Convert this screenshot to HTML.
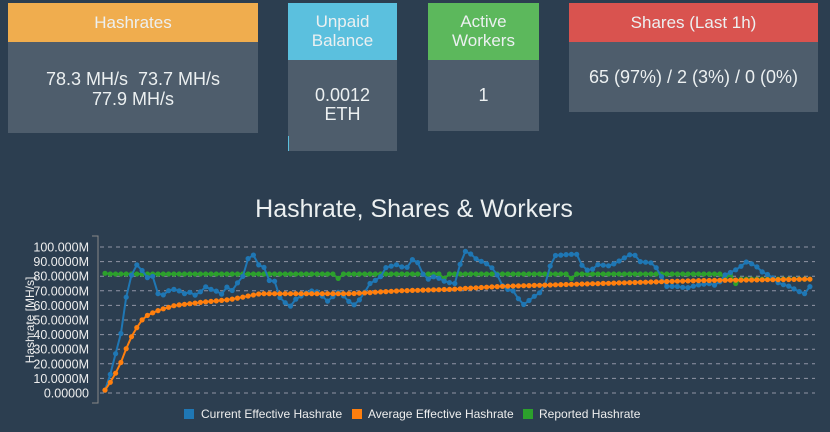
<!DOCTYPE html>
<html><head><meta charset="utf-8"><style>
html,body{margin:0;padding:0;width:830px;height:432px;background:#2c3e50;overflow:hidden;font-family:"Liberation Sans",sans-serif;}
.card{position:absolute;color:#ecf0f1;text-align:center;}
.h{position:absolute;left:0;right:0;top:0;font-size:17px;}
.b{position:absolute;left:0;right:0;background:#4e5d6c;font-size:18px;}
.n{white-space:nowrap;}
</style></head><body>
<div class="card" style="left:8px;top:3px;width:250px;">
 <div class="h" style="height:39px;background:#f0ad4e;line-height:39px;"><div class="n">Hashrates</div></div>
 <div class="b" style="top:39px;height:91px;"><div class="n" style="padding-top:27px;line-height:20px;">78.3 MH/s&nbsp; 73.7 MH/s<br>77.9 MH/s</div></div>
</div>
<div class="card" style="left:288px;top:3px;width:109px;">
 <div class="h" style="height:57px;background:#5bc0de;line-height:19px;"><div class="n" style="padding-top:9px">Unpaid<br>Balance</div></div>
 <div class="b" style="top:57px;height:76px;"><div class="n" style="padding-top:26px;line-height:19px;">0.0012<br>ETH</div></div>
 <div style="position:absolute;top:133px;left:0;width:108px;height:15px;background:#4e5d6c;border-left:1px solid #5bc0de;"></div>
</div>
<div class="card" style="left:428px;top:3px;width:111px;">
 <div class="h" style="height:57px;background:#5cb85c;line-height:19px;"><div class="n" style="padding-top:9px">Active<br>Workers</div></div>
 <div class="b" style="top:57px;height:71px;"><div class="n" style="padding-top:26px;line-height:19px;">1</div></div>
</div>
<div class="card" style="left:569px;top:3px;width:249px;">
 <div class="h" style="height:39px;background:#d9534f;line-height:39px;"><div class="n">Shares (Last 1h)</div></div>
 <div class="b" style="top:39px;height:70px;"><div class="n" style="padding-top:26px;line-height:19px;">65 (97%) / 2 (3%) / 0 (0%)</div></div>
</div>
<svg id="c" width="830" height="432" style="position:absolute;left:0;top:0" xmlns="http://www.w3.org/2000/svg" font-family="Liberation Sans, sans-serif">
<text x="414" y="217" font-size="25" fill="#ecf0f1" text-anchor="middle">Hashrate, Shares &amp; Workers</text>
<g id="grid"></g>
<path d="M92 236H98V403H92" stroke="#888" fill="none"/>
<text transform="translate(34,320) rotate(-90)" font-size="12" fill="#eee" text-anchor="middle">Hashrate [MH/s]</text>
<g id="series"></g>
<rect x="184" y="409" width="10" height="10" fill="#1f77b4"/><text x="201" y="418" font-size="12" fill="#eee">Current Effective Hashrate</text>
<rect x="352" y="409" width="10" height="10" fill="#ff7f0e"/><text x="368" y="418" font-size="12" fill="#eee">Average Effective Hashrate</text>
<rect x="523" y="409" width="10" height="10" fill="#2ca02c"/><text x="539" y="418" font-size="12" fill="#eee">Reported Hashrate</text>
</svg>
<script>
function Y(v){return 393-v*1.46;}
var g=document.getElementById('grid'),s='';
var labs=['0.00000','10.0000M','20.0000M','30.0000M','40.0000M','50.0000M','60.0000M','70.0000M','80.0000M','90.0000M','100.000M'];
for(var i=0;i<=10;i++){var y=Y(i*10);
s+='<line x1="100" x2="815" y1="'+y+'" y2="'+y+'" stroke="#aab" stroke-dasharray="4,4" stroke-width="1" opacity="0.8"/>';
s+='<text x="89" y="'+(y+4.5)+'" font-size="12.5" fill="#eee" text-anchor="end">'+labs[i]+'</text>';}
g.innerHTML=s;
var blue=[[105,2],[110,12],[116,28],[121,41],[126,65],[131,80],[137,88],[142,84],[147,79],[153,80],[158,68],[163,67],[168,70],[174,71],[179,70],[184,68],[190,69],[195,67],[200,69],[205,73],[211,71],[216,70],[221,67],[226,73],[232,70],[237,75],[243,80],[248,92],[253,95],[258,88],[264,86],[269,77],[274,78],[279,66],[285,62],[290,59],[295,64],[310,70],[320,69],[326,62],[340,70],[346,64],[355,60],[362,66],[370,75],[380,79],[386,86],[397,88],[406,85],[413,92],[420,88],[425,77],[435,80],[446,76],[455,75],[460,88],[466,98],[476,92],[488,88],[495,84],[500,77],[505,70],[511,72],[521,62],[525,60],[531,65],[539,68],[545,74],[553,94],[570,95],[577,95],[583,86],[590,83],[597,88],[610,87],[618,90],[633,96],[640,90],[653,89],[658,84],[662,79],[665,73],[677,73],[687,72],[698,74],[710,75],[718,73],[722,80],[732,83],[740,86],[745,90],[750,89],[756,87],[762,83],[771,80],[779,75],[790,73],[797,70],[805,68],[810,73],[813,72]];
var orange=[[105,2],[110,7],[116,14],[121,21],[126,30],[131,38],[137,45],[142,50],[147,53],[153,55],[160,57],[175,60],[200,62],[230,64],[260,68],[300,68],[350,68],[400,70],[450,71],[500,73],[550,74],[600,75],[650,76],[700,77],[760,77.5],[813,78]];
var green=[[105,82],[110,81.5],[730,81.5],[735,78],[813,78]];
function interp(k,x){for(var i=1;i<k.length;i++){if(x<=k[i][0]){var a=k[i-1],b=k[i];return a[1]+(b[1]-a[1])*(x-a[0])/(b[0]-a[0]);}}return k[k.length-1][1];}
var dips=[340,443,574,725,735];
function series(k,col,w){var pts=[],c='';for(var i=0;i<134;i++){var x=105+i*5.3;var v=interp(k,x);if(k===green){dips.forEach(function(d){if(Math.abs(x-d)<2.7)v-=3;});}var y=Y(v);pts.push(x.toFixed(1)+','+y.toFixed(1));c+='<circle cx="'+x.toFixed(1)+'" cy="'+y.toFixed(1)+'" r="2.6" fill="'+col+'"/>';}
return '<polyline points="'+pts.join(' ')+'" fill="none" stroke="'+col+'" stroke-width="'+w+'"/>'+c;}
document.getElementById('series').innerHTML=series(green,'#2ca02c',2)+series(blue,'#1f77b4',2)+series(orange,'#ff7f0e',2);
</script>
</body></html>
